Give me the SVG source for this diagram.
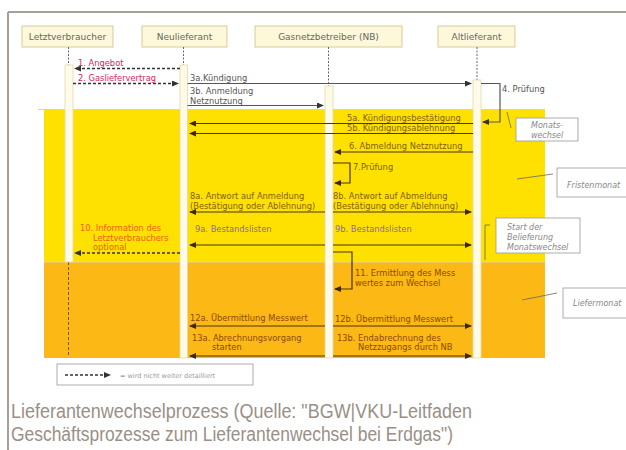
<svg xmlns="http://www.w3.org/2000/svg" width="626" height="450" viewBox="0 0 626 450">
<defs>
<style>
text{font-family:"DejaVu Sans","Liberation Sans",sans-serif;font-size:8.3px}
.hdr rect{fill:#fdf8da;stroke:#d6cb98;stroke-width:1}
.hdr text{fill:#666;font-size:9px;text-anchor:middle}
.bar{fill:#fffbe8;stroke:#e2d9ad;stroke-width:0.8}
.life{stroke:#666;stroke-width:1;stroke-dasharray:2 1.5}
.msgw{stroke:#555;stroke-width:1.2;fill:none}
.msgy{stroke:#4a3408;stroke-width:1.2;fill:none}
.dash{stroke:#333;stroke-width:1.4;stroke-dasharray:3 2;fill:none}
.tw{fill:#555}
.ty{fill:#806000}
.to{fill:#8a4a00}
.tr{fill:#e0245e}
.tor{fill:#f06010}
.tp{fill:#8a66b8}
.note rect{fill:#fff;stroke:#999;stroke-width:0.8}
.note text{fill:#888;font-style:italic;font-size:8px}
.ptr{stroke:#666;stroke-width:0.8;fill:none}
.cap{font-family:"Liberation Sans","Noto Sans",sans-serif;font-size:20px;fill:#9a8f86}
</style>
<marker id="ad" markerWidth="7" markerHeight="6" refX="6" refY="3" orient="auto" markerUnits="userSpaceOnUse"><path d="M0,0 L7,3 L0,6 z" fill="#333"/></marker>
<marker id="ab" markerWidth="7" markerHeight="6" refX="6" refY="3" orient="auto" markerUnits="userSpaceOnUse"><path d="M0,0 L7,3 L0,6 z" fill="#3a2806"/></marker>
</defs>

<!-- frame -->
<line x1="8" y1="12" x2="626" y2="12" stroke="#a8a098" stroke-width="2"/>
<line x1="8" y1="12" x2="8" y2="450" stroke="#a8a098" stroke-width="2"/>

<!-- bands -->
<rect x="44" y="110" width="501" height="152" fill="#ffe100"/>
<rect x="44" y="262" width="501" height="96" fill="#fcb815"/>
<line x1="38" y1="109.5" x2="545" y2="109.5" stroke="#d4d2c8" stroke-width="1.2"/>
<line x1="44" y1="262" x2="545" y2="262" stroke="#e0d6b4" stroke-width="1.2"/>

<!-- headers -->
<g id="letztverbraucher" class="hdr"><rect x="22" y="26" width="91" height="21"/><text x="67.5" y="40">Letztverbraucher</text></g>
<g id="neulieferant" class="hdr"><rect x="142" y="26" width="85" height="21"/><text x="184.5" y="40">Neulieferant</text></g>
<g id="gasnetzbetreiber" class="hdr"><rect x="255" y="26" width="147" height="21"/><text x="328.5" y="40">Gasnetzbetreiber (NB)</text></g>
<g id="altlieferant" class="hdr"><rect x="438" y="26" width="77" height="21"/><text x="476.5" y="40">Altlieferant</text></g>

<!-- lifelines -->
<g id="lifelines">
<line class="life" x1="68.5" y1="47" x2="68.5" y2="65"/>
<line class="life" x1="183.5" y1="47" x2="183.5" y2="65"/>
<line class="life" x1="328.5" y1="47" x2="328.5" y2="86"/>
<line class="life" x1="477" y1="47" x2="477" y2="80"/>
<line x1="68.5" y1="262" x2="68.5" y2="357" stroke="#8a4a00" stroke-width="1" stroke-dasharray="3 2"/>
<rect class="bar" x="65" y="65" width="8" height="197"/>
<rect class="bar" x="180" y="65" width="7.5" height="293"/>
<rect class="bar" x="325" y="86" width="8" height="272"/>
<rect class="bar" x="473" y="80" width="8" height="278"/>
</g>

<!-- connectors -->
<g id="connectors">
<line class="dash" x1="180" y1="68.5" x2="75" y2="68.5" marker-end="url(#ad)"/>
<line class="dash" x1="73" y1="83.5" x2="178" y2="83.5" marker-end="url(#ad)"/>
<line class="msgw" x1="187.5" y1="83.5" x2="471" y2="83.5" marker-end="url(#ad)"/>
<line class="msgw" x1="187.5" y1="105.5" x2="323" y2="105.5" marker-end="url(#ad)"/>
<polyline class="msgw" points="481,83.5 500,83.5 500,122 483,122" marker-end="url(#ad)"/>
<line class="msgy" x1="473" y1="123.5" x2="190" y2="123.5" marker-end="url(#ab)"/>
<line class="msgy" x1="473" y1="133.5" x2="190" y2="133.5" marker-end="url(#ab)"/>
<line class="msgy" x1="473" y1="152" x2="335" y2="152" marker-end="url(#ab)"/>
<polyline class="msgy" points="333,163 350,163 350,183 335,183" marker-end="url(#ab)"/>
<line class="msgy" x1="325" y1="212" x2="190" y2="212" marker-end="url(#ab)"/>
<line class="msgy" x1="333" y1="212" x2="471" y2="212" marker-end="url(#ab)"/>
<line class="msgy" x1="325" y1="245" x2="190" y2="245" marker-end="url(#ab)"/>
<line class="msgy" x1="333" y1="245" x2="471" y2="245" marker-end="url(#ab)"/>
<line class="dash" x1="180" y1="253" x2="75" y2="253" marker-end="url(#ad)"/>
<polyline class="msgy" points="333,252 352,252 352,289 335,289" marker-end="url(#ab)"/>
<line class="msgy" x1="325" y1="326" x2="190" y2="326" marker-end="url(#ab)"/>
<line class="msgy" x1="333" y1="326" x2="471" y2="326" marker-end="url(#ab)"/>
<line class="msgy" x1="325" y1="356" x2="190" y2="356" marker-end="url(#ab)"/>
<line class="msgy" x1="333" y1="356" x2="471" y2="356" marker-end="url(#ab)"/>
</g>

<!-- labels -->
<g id="labels">
<text class="tr" x="78" y="66">1. Angebot</text>
<text class="tr" x="78" y="81">2. Gasliefervertrag</text>
<text class="tw" x="190" y="81">3a.Kündigung</text>
<text class="tw" x="190" y="94">3b. Anmeldung</text>
<text class="tw" x="190" y="104">Netznutzung</text>
<text class="tw" x="502" y="92">4. Prüfung</text>
<text class="ty" x="347" y="121">5a. Kündigungsbestätigung</text>
<text class="ty" x="347" y="131">5b. Kündigungsablehnung</text>
<text class="ty" x="349" y="149">6. Abmeldung Netznutzung</text>
<text class="ty" x="353" y="170">7.Prüfung</text>
<text class="ty" x="190" y="199">8a. Antwort auf Anmeldung</text>
<text class="ty" x="190" y="209">(Bestätigung oder Ablehnung)</text>
<text class="ty" x="333" y="199">8b. Antwort auf Abmeldung</text>
<text class="ty" x="333" y="209">(Bestätigung oder Ablehnung)</text>
<text class="tp" x="195" y="232">9a. Bestandslisten</text>
<text class="tp" x="335" y="232">9b. Bestandslisten</text>
<text class="tor" x="80" y="231">10. Information des</text>
<text class="tor" x="93" y="241">Letztverbrauchers</text>
<text class="tor" x="93" y="250">optional</text>
<text class="to" x="355" y="276">11. Ermittlung des Mess</text>
<text class="to" x="355" y="286">wertes zum Wechsel</text>
<text class="to" x="190" y="321">12a. Übermittlung Messwert</text>
<text class="to" x="335" y="322">12b. Übermittlung Messwert</text>
<text class="to" x="192" y="341">13a. Abrechnungsvorgang</text>
<text class="to" x="212" y="350">starten</text>
<text class="to" x="337" y="341">13b. Endabrechnung des</text>
<text class="to" x="358" y="350">Netzzugangs durch NB</text>
</g>

<!-- side notes -->
<g id="note-monatswechsel" class="note">
<line class="ptr" x1="507" y1="112" x2="511" y2="128"/>
<rect x="516" y="118" width="62" height="23"/>
<text x="547" y="127.5" text-anchor="middle">Monats-</text>
<text x="547" y="137.5" text-anchor="middle">wechsel</text>
</g>
<g id="note-fristenmonat" class="note">
<line class="ptr" x1="517" y1="179" x2="553" y2="174"/>
<rect x="557" y="168" width="75" height="29"/>
<text x="567" y="188">Fristenmonat</text>
</g>
<g id="note-start" class="note">
<polyline class="ptr" points="490,225 485,225 485,260"/>
<rect x="496" y="218" width="84" height="35"/>
<text x="507" y="230">Start der</text>
<text x="507" y="240">Belieferung</text>
<text x="507" y="249.5">Monatswechsel</text>
</g>
<g id="note-liefermonat" class="note">
<line class="ptr" x1="522" y1="300" x2="557" y2="293"/>
<rect x="563" y="288" width="70" height="30"/>
<text x="573" y="306">Liefermonat</text>
</g>

<!-- legend -->
<g id="legend">
<rect x="57" y="364" width="196" height="21" fill="#fff" stroke="#999" stroke-width="0.8"/>
<line class="dash" x1="65" y1="375" x2="110" y2="375" marker-end="url(#ad)"/>
<text x="120" y="377.5" fill="#9a9a9a" style="font-size:6.5px">= wird nicht weiter detailliert</text>
</g>

<!-- caption -->
<text class="cap" x="11" y="418" textLength="461" lengthAdjust="spacingAndGlyphs">Lieferantenwechselprozess (Quelle: "BGW|VKU-Leitfaden</text>
<text class="cap" x="11" y="441" textLength="442" lengthAdjust="spacingAndGlyphs">Geschäftsprozesse zum Lieferantenwechsel bei Erdgas")</text>
</svg>
